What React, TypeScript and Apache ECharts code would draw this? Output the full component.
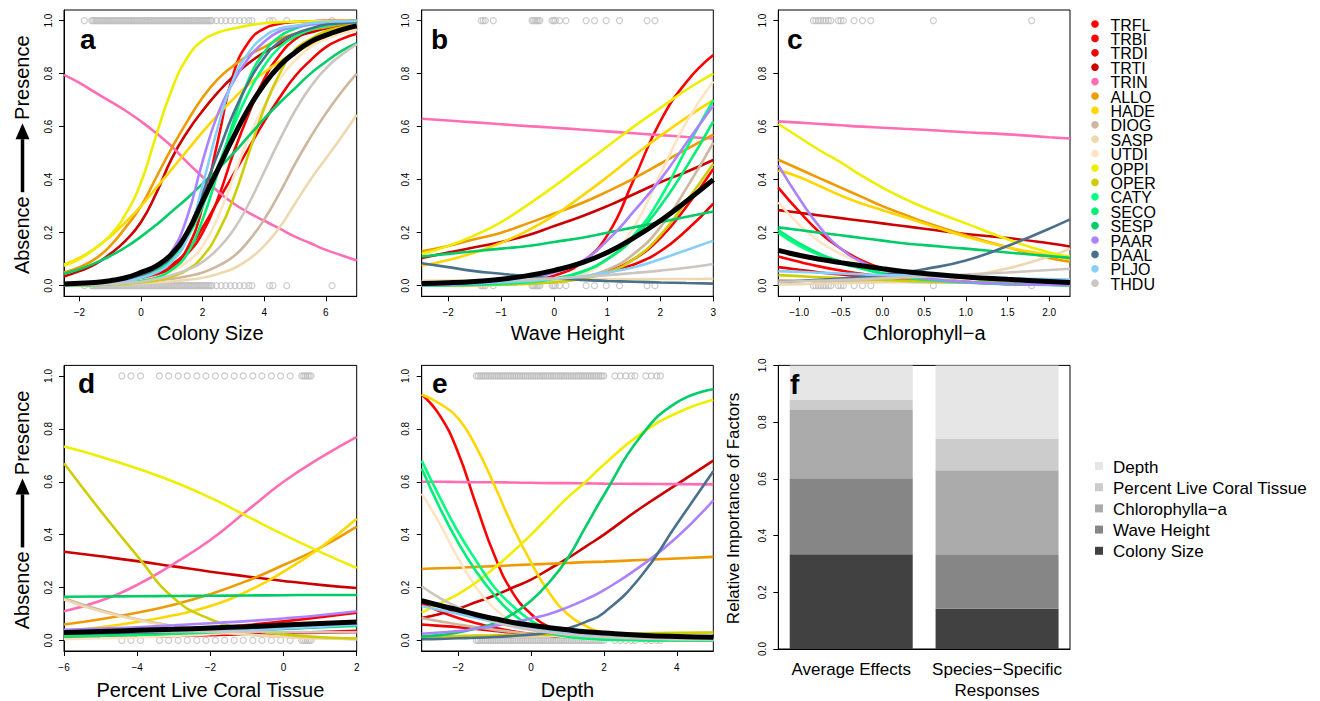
import React, { useEffect, useRef } from 'react';
import * as echarts from 'echarts';

// ---------- species ----------
const speciesNames = ['TRFL','TRBI','TRDI','TRTI','TRIN','ALLO','HADE','DIOG','SASP','UTDI','OPPI','OPER','CATY','SECO','SESP','PAAR','DAAL','PLJO','THDU'];
const speciesColors = ['#FF0000','#FF0000','#EE0000','#CD0000','#FF6EB4','#EE9A00','#FFD700','#CDB79E','#EED8AE','#FFE4C4','#EEEE00','#CDCD00','#00FF7F','#00EE76','#00CD66','#AB82FF','#4A708B','#87CEFA','#CDC5BF'];

// ---------- panel a: Colony Size ----------
const colonyX = [-2.5,-2,-1.5,-1,-0.5,0,0.5,1,1.5,2,2.5,3,3.5,4,4.5,5,5.5,6,6.5,7];
const colonyCurves: Record<string, number[]> = {
  TRFL: [0.002,0.003,0.005,0.008,0.012,0.02,0.035,0.07,0.14,0.3,0.55,0.8,0.92,0.97,0.988,0.995,0.997,0.999,0.9995,1],
  TRBI: [0.003,0.005,0.008,0.013,0.02,0.03,0.045,0.07,0.12,0.2,0.33,0.5,0.65,0.78,0.87,0.93,0.96,0.98,0.99,0.995],
  TRDI: [0.005,0.007,0.01,0.014,0.02,0.03,0.05,0.08,0.13,0.22,0.32,0.42,0.52,0.62,0.71,0.79,0.85,0.9,0.93,0.95],
  TRTI: [0.035,0.055,0.08,0.12,0.17,0.24,0.35,0.48,0.58,0.66,0.73,0.79,0.84,0.88,0.91,0.94,0.955,0.97,0.98,0.985],
  TRIN: [0.795,0.765,0.73,0.695,0.66,0.62,0.575,0.525,0.465,0.41,0.355,0.31,0.275,0.245,0.215,0.185,0.16,0.135,0.115,0.095],
  ALLO: [0.05,0.07,0.1,0.15,0.22,0.3,0.41,0.52,0.62,0.71,0.78,0.83,0.87,0.9,0.93,0.95,0.965,0.975,0.985,0.99],
  HADE: [0.08,0.105,0.14,0.185,0.24,0.3,0.37,0.44,0.51,0.58,0.645,0.705,0.76,0.805,0.845,0.88,0.91,0.935,0.952,0.965],
  DIOG: [0.003,0.004,0.005,0.007,0.01,0.014,0.019,0.026,0.036,0.05,0.075,0.11,0.17,0.25,0.35,0.46,0.56,0.65,0.73,0.8],
  SASP: [0.002,0.003,0.004,0.005,0.007,0.009,0.012,0.016,0.022,0.03,0.045,0.065,0.1,0.15,0.22,0.31,0.4,0.48,0.56,0.645],
  UTDI: [0.002,0.003,0.005,0.008,0.012,0.02,0.033,0.055,0.09,0.15,0.26,0.41,0.56,0.68,0.78,0.85,0.9,0.93,0.95,0.965],
  OPPI: [0.075,0.1,0.14,0.19,0.27,0.39,0.57,0.74,0.86,0.925,0.955,0.97,0.982,0.99,0.994,0.996,0.997,0.998,0.999,0.999],
  OPER: [0.001,0.002,0.003,0.005,0.007,0.012,0.02,0.035,0.06,0.11,0.2,0.33,0.5,0.67,0.8,0.89,0.93,0.96,0.975,0.985],
  CATY: [0.004,0.006,0.008,0.013,0.02,0.03,0.055,0.1,0.18,0.3,0.45,0.6,0.73,0.83,0.9,0.94,0.965,0.98,0.99,0.995],
  SECO: [0.001,0.002,0.003,0.006,0.01,0.018,0.03,0.06,0.12,0.25,0.43,0.62,0.78,0.88,0.94,0.97,0.985,0.99,0.995,1],
  SESP: [0.045,0.062,0.085,0.112,0.145,0.185,0.23,0.28,0.33,0.385,0.44,0.5,0.565,0.63,0.69,0.745,0.8,0.845,0.885,0.915],
  PAAR: [0.003,0.005,0.008,0.013,0.022,0.04,0.07,0.13,0.26,0.47,0.65,0.77,0.86,0.92,0.96,0.975,0.985,0.99,0.995,0.997],
  DAAL: [0.004,0.006,0.01,0.016,0.025,0.04,0.065,0.11,0.2,0.35,0.5,0.65,0.77,0.86,0.92,0.95,0.97,0.985,0.99,0.995],
  PLJO: [0.003,0.005,0.007,0.01,0.015,0.03,0.05,0.09,0.18,0.38,0.6,0.78,0.88,0.94,0.97,0.98,0.99,0.995,0.997,0.999],
  THDU: [0.002,0.003,0.004,0.006,0.01,0.015,0.025,0.04,0.06,0.09,0.14,0.21,0.31,0.43,0.55,0.66,0.75,0.82,0.87,0.91],
};
const colonyMean = [0.006,0.009,0.012,0.019,0.03,0.05,0.075,0.12,0.2,0.32,0.44,0.56,0.67,0.76,0.83,0.88,0.92,0.945,0.965,0.98];
const colonyObs = [-1.84,-1.6,-1.55,-1.5,-1.45,-1.4,-1.35,-1.3,-1.25,-1.2,-1.15,-1.1,-1.05,-1.0,-0.95,-0.9,-0.85,-0.8,-0.75,-0.7,-0.65,-0.6,-0.55,-0.5,-0.45,-0.4,-0.35,-0.3,-0.25,-0.2,-0.15,-0.1,-0.05,0,0.05,0.1,0.15,0.2,0.25,0.3,0.35,0.4,0.45,0.5,0.55,0.6,0.65,0.7,0.75,0.8,0.85,0.9,0.95,1.0,1.05,1.1,1.15,1.2,1.25,1.3,1.35,1.4,1.45,1.5,1.55,1.6,1.65,1.7,1.75,1.8,1.85,1.9,1.95,2.0,2.05,2.1,2.15,2.2,2.25,2.3,2.45,2.6,2.75,2.9,3.05,3.2,3.35,3.5,3.6,4.17,4.28,4.73,6.2];

// ---------- panel b: Wave Height ----------
const waveX = [-2.5,-2,-1.5,-1,-0.5,0,0.5,1,1.5,2,2.5,3];
const waveCurves: Record<string, number[]> = {
  TRFL: [0.001,0.002,0.004,0.008,0.017,0.038,0.085,0.19,0.4,0.62,0.77,0.87],
  TRBI: [0.001,0.002,0.003,0.005,0.009,0.016,0.03,0.055,0.1,0.18,0.3,0.44],
  TRDI: [0.002,0.003,0.005,0.008,0.012,0.02,0.03,0.05,0.08,0.13,0.21,0.31],
  TRTI: [0.105,0.125,0.145,0.165,0.19,0.225,0.26,0.3,0.345,0.39,0.43,0.474],
  TRIN: [0.63,0.623,0.616,0.609,0.602,0.596,0.589,0.582,0.575,0.568,0.561,0.555],
  ALLO: [0.13,0.15,0.175,0.2,0.235,0.272,0.31,0.355,0.405,0.46,0.515,0.57],
  HADE: [0.075,0.097,0.125,0.162,0.208,0.265,0.335,0.41,0.49,0.565,0.635,0.7],
  DIOG: [0.001,0.002,0.003,0.005,0.009,0.015,0.03,0.06,0.12,0.22,0.37,0.54],
  SASP: [0.018,0.019,0.02,0.021,0.022,0.022,0.023,0.024,0.024,0.025,0.025,0.026],
  UTDI: [0.0005,0.001,0.002,0.004,0.008,0.018,0.04,0.1,0.22,0.42,0.62,0.77],
  OPPI: [0.12,0.15,0.19,0.24,0.305,0.375,0.45,0.525,0.6,0.67,0.74,0.8],
  OPER: [0.0005,0.001,0.002,0.004,0.007,0.013,0.025,0.05,0.1,0.19,0.32,0.46],
  CATY: [0.001,0.002,0.004,0.007,0.013,0.025,0.05,0.1,0.19,0.33,0.52,0.7],
  SECO: [0.001,0.002,0.004,0.008,0.015,0.028,0.052,0.1,0.18,0.3,0.45,0.62],
  SESP: [0.11,0.12,0.13,0.14,0.15,0.165,0.18,0.2,0.22,0.24,0.26,0.28],
  PAAR: [0.002,0.004,0.008,0.015,0.028,0.05,0.09,0.17,0.28,0.4,0.54,0.68],
  DAAL: [0.085,0.07,0.055,0.045,0.035,0.028,0.022,0.018,0.015,0.012,0.01,0.008],
  PLJO: [0.006,0.008,0.01,0.013,0.018,0.025,0.035,0.05,0.07,0.1,0.135,0.17],
  THDU: [0.012,0.014,0.017,0.02,0.024,0.028,0.033,0.04,0.048,0.057,0.068,0.082],
};
const waveMean = [0.008,0.011,0.016,0.024,0.038,0.058,0.085,0.125,0.18,0.245,0.32,0.4];
const waveObs = [-1.38,-1.34,-1.3,-1.15,-0.42,-0.39,-0.36,-0.33,-0.3,-0.27,-0.04,-0.01,0.02,0.1,0.22,0.6,0.76,0.98,1.23,1.75,1.9];

// ---------- panel c: Chlorophyll-a ----------
const chlX = [-1.25,-1,-0.75,-0.5,-0.25,0,0.25,0.5,1,1.5,2,2.25];
const chlCurves: Record<string, number[]> = {
  TRFL: [0.37,0.28,0.2,0.14,0.095,0.065,0.045,0.03,0.015,0.007,0.004,0.003],
  TRBI: [0.11,0.09,0.072,0.057,0.045,0.035,0.027,0.021,0.012,0.007,0.004,0.003],
  TRDI: [0.07,0.06,0.05,0.042,0.035,0.029,0.024,0.02,0.014,0.01,0.007,0.006],
  TRTI: [0.285,0.275,0.265,0.255,0.245,0.235,0.225,0.215,0.195,0.18,0.16,0.148],
  TRIN: [0.62,0.615,0.61,0.605,0.6,0.596,0.592,0.588,0.579,0.571,0.56,0.555],
  ALLO: [0.475,0.44,0.405,0.37,0.335,0.3,0.27,0.24,0.19,0.145,0.105,0.09],
  HADE: [0.435,0.41,0.375,0.34,0.31,0.285,0.26,0.235,0.185,0.145,0.115,0.1],
  DIOG: [0.02,0.019,0.018,0.017,0.016,0.015,0.014,0.013,0.011,0.01,0.009,0.008],
  SASP: [0.005,0.006,0.007,0.009,0.011,0.013,0.016,0.02,0.035,0.065,0.11,0.14],
  UTDI: [0.315,0.23,0.165,0.12,0.085,0.06,0.04,0.028,0.014,0.007,0.004,0.003],
  OPPI: [0.61,0.56,0.51,0.465,0.415,0.37,0.33,0.295,0.235,0.175,0.125,0.11],
  OPER: [0.04,0.036,0.032,0.028,0.025,0.022,0.019,0.017,0.013,0.01,0.008,0.007],
  CATY: [0.2,0.15,0.115,0.085,0.065,0.048,0.035,0.026,0.014,0.008,0.004,0.003],
  SECO: [0.21,0.16,0.12,0.09,0.065,0.045,0.032,0.023,0.012,0.006,0.003,0.002],
  SESP: [0.22,0.21,0.2,0.19,0.18,0.17,0.16,0.153,0.14,0.125,0.112,0.105],
  PAAR: [0.455,0.33,0.22,0.14,0.09,0.06,0.04,0.028,0.014,0.007,0.004,0.003],
  DAAL: [0.015,0.018,0.022,0.027,0.033,0.04,0.05,0.062,0.095,0.15,0.215,0.25],
  PLJO: [0.055,0.052,0.049,0.046,0.043,0.04,0.038,0.036,0.032,0.028,0.025,0.023],
  THDU: [0.015,0.017,0.019,0.022,0.025,0.028,0.031,0.034,0.042,0.05,0.059,0.064],
};
const chlMean = [0.133,0.115,0.1,0.087,0.075,0.064,0.054,0.046,0.033,0.024,0.016,0.012];
const chlObs = [-0.83,-0.8,-0.77,-0.74,-0.71,-0.68,-0.65,-0.62,-0.53,-0.5,-0.47,-0.34,-0.24,-0.14,0.61,1.79];

// ---------- panel d: Percent Live Coral Tissue ----------
const coralX = [-6,-5,-4,-3,-2,-1,0,1,2];
const coralCurves: Record<string, number[]> = {
  TRFL: [0.015,0.02,0.026,0.034,0.045,0.058,0.072,0.088,0.105],
  TRBI: [0.01,0.012,0.014,0.017,0.02,0.024,0.028,0.032,0.036],
  TRDI: [0.02,0.021,0.022,0.023,0.025,0.026,0.028,0.029,0.031],
  TRTI: [0.335,0.318,0.3,0.28,0.26,0.242,0.225,0.21,0.198],
  TRIN: [0.11,0.15,0.21,0.29,0.38,0.49,0.6,0.69,0.77],
  ALLO: [0.06,0.08,0.105,0.135,0.175,0.225,0.285,0.35,0.43],
  HADE: [0.035,0.05,0.07,0.095,0.13,0.185,0.26,0.35,0.46],
  DIOG: [0.16,0.115,0.08,0.055,0.035,0.022,0.014,0.009,0.005],
  SASP: [0.155,0.11,0.078,0.052,0.035,0.022,0.014,0.008,0.005],
  UTDI: [0.005,0.008,0.012,0.017,0.024,0.033,0.045,0.058,0.07],
  OPPI: [0.733,0.695,0.65,0.6,0.54,0.47,0.4,0.335,0.274],
  OPER: [0.67,0.49,0.32,0.16,0.08,0.042,0.023,0.012,0.007],
  CATY: [0.02,0.023,0.026,0.03,0.034,0.039,0.044,0.05,0.055],
  SECO: [0.015,0.018,0.021,0.025,0.03,0.036,0.043,0.05,0.058],
  SESP: [0.165,0.166,0.167,0.168,0.169,0.17,0.171,0.172,0.172],
  PAAR: [0.04,0.045,0.05,0.057,0.065,0.073,0.083,0.095,0.11],
  DAAL: [0.025,0.027,0.03,0.033,0.036,0.04,0.045,0.052,0.06],
  PLJO: [0.03,0.032,0.034,0.036,0.038,0.04,0.045,0.052,0.06],
  THDU: [0.035,0.035,0.034,0.034,0.033,0.033,0.032,0.031,0.031],
};
const coralMean = [0.03,0.034,0.038,0.042,0.047,0.052,0.058,0.064,0.07];
const coralObs = [-4.42,-4.17,-3.91,-3.39,-3.14,-2.88,-2.63,-2.37,-2.12,-1.86,-1.61,-1.35,-1.1,-0.84,-0.59,-0.33,-0.08,0.18,0.5,0.55,0.6,0.65,0.7,0.75];

// ---------- panel e: Depth ----------
const depthX = [-3,-2.5,-2,-1.5,-1,-0.5,0,0.5,1,1.5,2,3,4,5];
const depthCurves: Record<string, number[]> = {
  TRFL: [0.93,0.85,0.71,0.51,0.32,0.18,0.1,0.05,0.025,0.012,0.006,0.002,0.001,0],
  TRBI: [0.14,0.11,0.085,0.065,0.048,0.035,0.025,0.018,0.013,0.009,0.006,0.003,0.002,0.001],
  TRDI: [0.06,0.055,0.05,0.043,0.036,0.029,0.023,0.018,0.014,0.011,0.008,0.004,0.002,0.001],
  TRTI: [0.085,0.1,0.12,0.145,0.17,0.2,0.23,0.27,0.31,0.355,0.4,0.5,0.59,0.68],
  TRIN: [0.6,0.6,0.599,0.598,0.598,0.597,0.596,0.595,0.595,0.594,0.593,0.592,0.591,0.59],
  ALLO: [0.27,0.273,0.275,0.278,0.281,0.284,0.287,0.29,0.293,0.296,0.298,0.304,0.31,0.316],
  HADE: [0.93,0.895,0.84,0.73,0.585,0.43,0.295,0.18,0.1,0.055,0.03,0.01,0.005,0.003],
  DIOG: [0.085,0.072,0.06,0.05,0.04,0.032,0.025,0.02,0.015,0.012,0.009,0.005,0.003,0.002],
  SASP: [0.01,0.011,0.012,0.013,0.014,0.015,0.016,0.017,0.018,0.019,0.02,0.023,0.026,0.03],
  UTDI: [0.555,0.44,0.31,0.2,0.12,0.07,0.04,0.022,0.012,0.006,0.003,0.001,0,0],
  OPPI: [0.105,0.14,0.175,0.22,0.275,0.335,0.4,0.47,0.54,0.6,0.665,0.78,0.86,0.91],
  OPER: [0.015,0.016,0.017,0.018,0.019,0.02,0.021,0.022,0.023,0.024,0.025,0.027,0.029,0.03],
  CATY: [0.68,0.54,0.41,0.3,0.2,0.13,0.075,0.04,0.02,0.01,0.005,0.002,0.001,0],
  SECO: [0.65,0.5,0.37,0.26,0.17,0.1,0.055,0.028,0.014,0.007,0.003,0.001,0,0],
  SESP: [0.015,0.02,0.03,0.045,0.065,0.1,0.15,0.22,0.31,0.43,0.55,0.77,0.9,0.95],
  PAAR: [0.025,0.03,0.035,0.045,0.055,0.068,0.083,0.1,0.125,0.155,0.19,0.28,0.39,0.53],
  DAAL: [0.005,0.006,0.008,0.01,0.013,0.017,0.022,0.03,0.045,0.07,0.105,0.24,0.44,0.64],
  PLJO: [0.13,0.115,0.1,0.085,0.07,0.058,0.046,0.036,0.028,0.021,0.016,0.009,0.006,0.004],
  THDU: [0.205,0.16,0.125,0.095,0.07,0.052,0.04,0.03,0.022,0.016,0.012,0.007,0.004,0.003],
};
const depthMean = [0.15,0.132,0.115,0.097,0.082,0.068,0.057,0.048,0.04,0.033,0.028,0.02,0.015,0.012];
const depthObs = [-1.5,-1.45,-1.4,-1.35,-1.3,-1.25,-1.2,-1.15,-1.1,-1.05,-1.0,-0.95,-0.9,-0.85,-0.8,-0.75,-0.7,-0.65,-0.6,-0.55,-0.5,-0.45,-0.4,-0.35,-0.3,-0.25,-0.2,-0.15,-0.1,-0.05,0,0.05,0.1,0.15,0.2,0.25,0.3,0.35,0.4,0.45,0.5,0.55,0.6,0.65,0.7,0.75,0.8,0.85,0.9,0.95,1.0,1.05,1.1,1.15,1.2,1.25,1.3,1.35,1.4,1.45,1.5,1.55,1.6,1.65,1.7,1.75,1.8,1.85,1.9,1.95,2.0,2.3,2.45,2.6,2.75,2.85,3.15,3.3,3.45,3.55];

// ---------- panel f: relative importance ----------
const factorNames = ['Colony Size', 'Wave Height', 'Chlorophylla\u2212a', 'Percent Live Coral Tissue', 'Depth'];
const factorColors = ['#414141', '#868686', '#ABABAB', '#CCCCCC', '#E6E6E6'];
const barCategories = ['Average Effects', 'Species\u2212Specific\nResponses'];
const averageEffects = [0.334, 0.268, 0.241, 0.035, 0.122];
const speciesSpecific = [0.142, 0.192, 0.296, 0.112, 0.258];

// ---------- axis ticks ----------
const probTicks = [0, 0.2, 0.4, 0.6, 0.8, 1.0];
const colonyTicks = [-2, 0, 2, 4, 6];
const waveTicks = [-2, -1, 0, 1, 2, 3];
const chlTicks = [-1.0, -0.5, 0.0, 0.5, 1.0, 1.5, 2.0];
const coralTicks = [-6, -4, -2, 0, 2];
const depthTicks = [-2, 0, 2, 4];

const FONT = '"Liberation Sans", Arial, Helvetica, sans-serif';

function fmt(v: number, d: number) {
  const s = Math.abs(v).toFixed(d);
  return v < -1e-9 ? '\u2212' + s : s;
}

function buildOption() {
  const panels = [
    { letter: 'a', title: 'Colony Size', xs: colonyX, curves: colonyCurves, mean: colonyMean, obs: colonyObs, min: -2.5, max: 7, ticks: colonyTicks, dec: 0,
      grid: { left: 64, top: 10, width: 292.7, height: 286.3 }, nameGap: 27, lx: 80 },
    { letter: 'b', title: 'Wave Height', xs: waveX, curves: waveCurves, mean: waveMean, obs: waveObs, min: -2.5, max: 3, ticks: waveTicks, dec: 0,
      grid: { left: 421.7, top: 10, width: 291.6, height: 286.3 }, nameGap: 27, lx: 431 },
    { letter: 'c', title: 'Chlorophyll\u2212a', xs: chlX, curves: chlCurves, mean: chlMean, obs: chlObs, min: -1.25, max: 2.25, ticks: chlTicks, dec: 1,
      grid: { left: 778.3, top: 10, width: 291.7, height: 286.3 }, nameGap: 27, lx: 787 },
    { letter: 'd', title: 'Percent Live Coral Tissue', xs: coralX, curves: coralCurves, mean: coralMean, obs: coralObs, min: -6, max: 2, ticks: coralTicks, dec: 0,
      grid: { left: 64, top: 365.4, width: 292.7, height: 286 }, nameGap: 29, lx: 78 },
    { letter: 'e', title: 'Depth', xs: depthX, curves: depthCurves, mean: depthMean, obs: depthObs, min: -3, max: 5, ticks: depthTicks, dec: 0,
      grid: { left: 421.7, top: 365.4, width: 291.6, height: 286 }, nameGap: 29, lx: 432 },
  ];
  const barGrid = { left: 778.3, top: 365.4, width: 291.7, height: 286 };

  const grids: any[] = [];
  const xAxes: any[] = [];
  const yAxes: any[] = [];
  const series: any[] = [];
  const graphic: any[] = [];

  const tickLabel = { fontSize: 10, color: '#000', fontFamily: FONT };

  panels.forEach((p, i) => {
    grids.push({ ...p.grid, show: true, borderColor: '#000', borderWidth: 1, backgroundColor: 'transparent', containLabel: false });
    xAxes.push({
      type: 'value', gridIndex: i, min: p.min, max: p.max, position: 'bottom',
      name: p.title, nameLocation: 'middle', nameGap: p.nameGap,
      nameTextStyle: { fontSize: 20, color: '#000', fontFamily: FONT },
      axisLine: { show: true, onZero: false, lineStyle: { color: '#000', width: 1 } },
      axisTick: { show: true, inside: false, length: 5, customValues: p.ticks, lineStyle: { color: '#000' } },
      axisLabel: { ...tickLabel, margin: 11, customValues: p.ticks, formatter: (v: number) => fmt(v, p.dec), showMinLabel: true, showMaxLabel: true },
      splitLine: { show: false },
    });
    yAxes.push({
      type: 'value', gridIndex: i, min: -0.04, max: 1.04, position: 'left',
      axisLine: { show: true, onZero: false, lineStyle: { color: '#000', width: 1 } },
      axisTick: { show: true, inside: false, length: 5, customValues: probTicks, lineStyle: { color: '#000' } },
      axisLabel: { ...tickLabel, margin: 11, rotate: 90, customValues: probTicks, formatter: (v: number) => fmt(v, 1) },
      splitLine: { show: false },
    });
    // observations
    series.push({
      type: 'scatter', xAxisIndex: i, yAxisIndex: i, silent: true, z: 1,
      symbol: 'circle', symbolSize: 6,
      itemStyle: { color: 'rgba(255,255,255,0)', borderColor: '#BEBEBE', borderWidth: 1.2 },
      data: [...p.obs.map((x) => [x, 1]), ...p.obs.map((x) => [x, 0])],
    });
    speciesNames.forEach((name, k) => {
      const ys = p.curves[name];
      series.push({
        type: 'line', name, xAxisIndex: i, yAxisIndex: i, silent: true, z: 2,
        symbol: 'none', smooth: 0.5,
        lineStyle: { color: speciesColors[k], width: 2.6 },
        data: p.xs.map((x, j) => [x, ys[j]]),
      });
    });
    series.push({
      type: 'line', name: 'mean', xAxisIndex: i, yAxisIndex: i, silent: true, z: 3,
      symbol: 'none', smooth: 0.5,
      lineStyle: { color: '#000', width: 5 },
      data: p.xs.map((x, j) => [x, p.mean[j]]),
    });
    // panel letter
    const rowTop = p.grid.top;
    graphic.push({
      type: 'text', x: p.lx, y: rowTop < 100 ? 39.5 : 383.5, z: 100,
      style: { text: p.letter, fontSize: 28, fontWeight: 'bold', fontFamily: FONT, fill: '#000', align: 'left', verticalAlign: 'middle' },
    });
  });

  // bar panel f
  grids.push({ ...barGrid, show: true, borderColor: '#000', borderWidth: 1, backgroundColor: 'transparent' });
  xAxes.push({
    type: 'category', gridIndex: 5, data: barCategories, position: 'bottom',
    axisLine: { show: true, lineStyle: { color: '#000' } },
    axisTick: { show: false },
    axisLabel: { interval: 0, fontSize: 17, lineHeight: 21, margin: 10, color: '#000', fontFamily: FONT },
    splitLine: { show: false },
  });
  yAxes.push({
    type: 'value', gridIndex: 5, min: 0, max: 1, position: 'left',
    axisLine: { show: true, lineStyle: { color: '#000' } },
    axisTick: { show: true, length: 5, customValues: probTicks, lineStyle: { color: '#000' } },
    axisLabel: { ...tickLabel, margin: 11, rotate: 90, customValues: probTicks, formatter: (v: number) => fmt(v, 1) },
    splitLine: { show: false },
  });
  factorNames.forEach((name, k) => {
    series.push({
      type: 'bar', name, xAxisIndex: 5, yAxisIndex: 5, stack: 'imp', barWidth: 123, silent: true,
      itemStyle: { color: factorColors[k] },
      data: [averageEffects[k], speciesSpecific[k]],
    });
  });
  graphic.push({
    type: 'text', x: 790, y: 384.5, z: 100,
    style: { text: 'f', fontSize: 28, fontWeight: 'bold', fontFamily: FONT, fill: '#000', align: 'left', verticalAlign: 'middle' },
  });

  // y titles "Absence -> Presence"
  [153.2, 508.4].forEach((cy) => {
    const cx = 21.5;
    graphic.push({
      type: 'text', x: cx, y: cy + 82, rotation: Math.PI / 2, z: 100,
      style: { text: 'Absence', fontSize: 20, fontFamily: FONT, fill: '#000', align: 'center', verticalAlign: 'middle' },
    });
    graphic.push({
      type: 'text', x: cx, y: cy - 75.5, rotation: Math.PI / 2, z: 100,
      style: { text: 'Presence', fontSize: 20, fontFamily: FONT, fill: '#000', align: 'center', verticalAlign: 'middle' },
    });
    graphic.push({
      type: 'line', z: 100,
      shape: { x1: cx + 1, y1: cy + 39, x2: cx + 1, y2: cy - 14 },
      style: { stroke: '#000', lineWidth: 3.5 },
    });
    graphic.push({
      type: 'polygon', z: 100,
      shape: { points: [[cx + 1 - 7, cy - 14], [cx + 1 + 7, cy - 14], [cx + 1, cy - 30]] },
      style: { fill: '#000' },
    });
  });
  graphic.push({
    type: 'text', x: 733, y: 508.4, rotation: Math.PI / 2, z: 100,
    style: { text: 'Relative Importance of Factors', fontSize: 17, fontFamily: FONT, fill: '#000', align: 'center', verticalAlign: 'middle' },
  });

  // species legend
  speciesNames.forEach((name, k) => {
    const cy = 24 + k * 14.4;
    graphic.push({ type: 'circle', z: 100, shape: { cx: 1095, cy, r: 3.8 }, style: { fill: speciesColors[k] } });
    graphic.push({
      type: 'text', x: 1110.5, y: cy + 1, z: 100,
      style: { text: name, fontSize: 16, fontFamily: FONT, fill: '#000', align: 'left', verticalAlign: 'middle' },
    });
  });

  // factor legend (top to bottom: Depth ... Colony Size)
  const legendOrder = [4, 3, 2, 1, 0];
  legendOrder.forEach((k, r) => {
    const cy = 466 + r * 21.2;
    graphic.push({ type: 'rect', z: 100, shape: { x: 1095, y: cy - 4, width: 8, height: 8 }, style: { fill: factorColors[k] } });
    graphic.push({
      type: 'text', x: 1113, y: cy + 1, z: 100,
      style: { text: factorNames[k], fontSize: 17, fontFamily: FONT, fill: '#000', align: 'left', verticalAlign: 'middle' },
    });
  });

  return {
    animation: false,
    backgroundColor: '#fff',
    textStyle: { fontFamily: FONT },
    grid: grids,
    xAxis: xAxes,
    yAxis: yAxes,
    series,
    graphic: { elements: graphic },
  };
}

export default function App() {
  const ref = useRef<HTMLDivElement>(null);
  useEffect(() => {
    if (!ref.current) return;
    const chart = echarts.init(ref.current, null, { renderer: 'svg' });
    chart.setOption(buildOption() as any);
    return () => chart.dispose();
  }, []);
  return (
    <div
      ref={ref}
      style={{ position: 'absolute', left: 0, top: 0, width: 1320, height: 701, background: '#fff' }}
    />
  );
}
